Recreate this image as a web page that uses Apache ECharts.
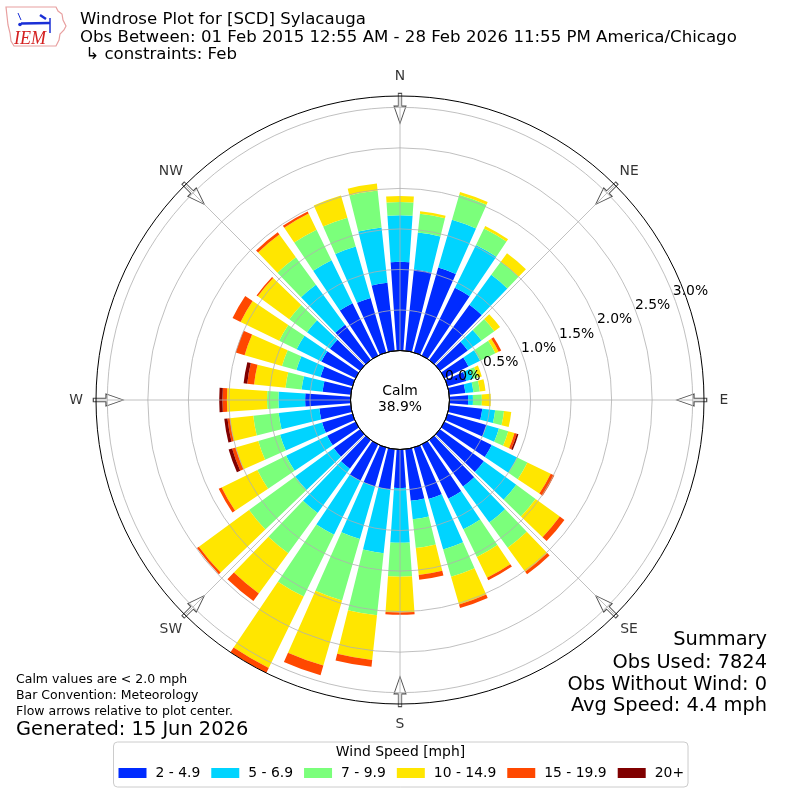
<!DOCTYPE html>
<html>
<head>
<meta charset="utf-8">
<script src="https://cdn.jsdelivr.net/npm/echarts@6/dist/echarts.min.js"></script>
<style>
html,body{margin:0;padding:0;background:#ffffff;}
#chart{width:800px;height:800px;}
</style>
</head>
<body>
<div id="chart"></div>
<script>
// ---------------- data ----------------
const directions = ['0','10','20','30','40','50','60','70','80','90','100','110',
  '120','130','140','150','160','170','180','190','200','210','220','230',
  '240','250','260','270','280','290','300','310','320','330','340','350'];
const speedBins = ['2 - 4.9','5 - 6.9','7 - 9.9','10 - 14.9','15 - 19.9','20+'];
const binColors = ['#002bff','#00d4ff','#7bff7b','#ffe600','#ff4800','#800000'];

// percent of observations per direction, per speed bin
const spd2to5 = [1.094,1.007,1.09,0.93,0.844,0.425,0.33,0.24,0.20,0.23,0.41,0.50,
  0.65,0.67,0.71,0.745,0.66,0.64,0.475,0.50,0.50,0.50,0.44,0.40,
  0.39,0.39,0.39,0.56,0.35,0.41,0.47,0.46,0.54,0.72,0.70,0.845];
const spd5to7 = [0.575,0.46,0.615,0.59,0.456,0.209,0.16,0.09,0.10,0.06,0.16,0.16,
  0.35,0.495,0.55,0.42,0.65,0.23,0.675,0.79,0.675,0.74,0.675,0.59,
  0.565,0.54,0.505,0.33,0.26,0.31,0.34,0.35,0.61,0.59,0.66,0.685];
const spd7to10 = [0.164,0.233,0.32,0.225,0.20,0.196,0.21,0.06,0.08,0.11,0.11,0.12,
  0.14,0.295,0.385,0.38,0.35,0.355,0.42,0.77,0.79,0.85,0.615,0.705,
  0.395,0.28,0.315,0.14,0.20,0.185,0.24,0.27,0.42,0.42,0.37,0.46];
const spd10to15 = [0.073,0.03,0.035,0.035,0.13,0.087,0.045,0.05,0.07,0.11,0.09,0.08,
  0.32,0.37,0.365,0.285,0.355,0.335,0.44,0.555,0.835,0.98,0.615,0.765,
  0.49,0.29,0.29,0.495,0.39,0.48,0.53,0.48,0.345,0.22,0.285,0.085];
const spd15to20 = [0,0,0,0,0,0,0.035,0,0,0,0,0.03,
  0.05,0.07,0.04,0.035,0.045,0.06,0.03,0.085,0.125,0.07,0.115,0.03,
  0.04,0.045,0.03,0.055,0.085,0.115,0.11,0.02,0.035,0.03,0,0];
const spd20plus = [0,0,0,0,0,0,0,0,0,0,0,0.02,
  0,0,0,0,0,0,0,0,0,0,0,0,
  0,0.045,0.04,0.04,0.045,0,0,0,0,0,0,0];
const seriesValues = [spd2to5, spd5to7, spd7to10, spd10to15, spd15to20, spd20plus];

const compassNames = ['N','NE','E','SE','S','SW','W','NW'];
const compassAngles = [0,45,90,135,180,225,270,315];
const radialTickStep = 0.5;   // percent
const radialMax = 3.14;       // percent (axis limit = largest bar)
const radialGridMax = 3.0;

const titleLines = ['Windrose Plot for [SCD] Sylacauga',
  'Obs Between: 01 Feb 2015 12:55 AM - 28 Feb 2026 11:55 PM America/Chicago',
  ' \u21b3 constraints: Feb'];
const summaryLines = ['Summary','Obs Used: 7824','Obs Without Wind: 0','Avg Speed: 4.4 mph'];
const noteLines = ['Calm values are < 2.0 mph','Bar Convention: Meteorology','Flow arrows relative to plot center.'];
const generatedText = 'Generated: 15 Jun 2026';
const calmLabel = 'Calm';
const calmValue = '38.9%';
const legendTitle = 'Wind Speed [mph]';

// ---------------- layout ----------------
const FONT = 'DejaVu Sans';
const R_IN = 49.5, R_OUT = 304;
const R_COMPASS = 324;
const pxPer = (R_OUT - R_IN) / radialMax;
const labelShift = 17.5;
const arrowR = 2.988;
const GRID = '#b0b0b0';

const chart = echarts.init(document.getElementById('chart'), null, {renderer:'canvas'});

const hiddenAxis = {axisLine:{show:false}, axisTick:{show:false}, axisLabel:{show:false}, splitLine:{show:false}};

const barSeries = speedBins.map((name, i) => ({
  name: name,
  type: 'bar',
  coordinateSystem: 'polar',
  polarIndex: 0,
  stack: 'wind',
  barCategoryGap: '22%',
  itemStyle: {color: binColors[i]},
  data: seriesValues[i].map(v => v > 0 ? v : '-'),
  silent: true,
  z: 2
}));

const arrowSeries = {
  type: 'scatter',
  coordinateSystem: 'polar',
  polarIndex: 2,
  symbol: 'path://M13.5,0L24.5,0L24.5,25.4L38,25.4L19,60L0,25.4L13.5,25.4Z',
  symbolSize: [19, 30],
  symbolKeepAspect: true,
  itemStyle: {color:'#ffffff', borderColor:'#222222', borderWidth:1},
  data: compassAngles.map(a => ({value:[arrowR, a], symbolRotate: -a})),
  silent: true,
  z: 8
};

const compassSeries = {
  type: 'scatter',
  coordinateSystem: 'polar',
  polarIndex: 5,
  symbol: 'circle',
  symbolSize: 1,
  itemStyle: {color: 'rgba(255,255,255,0)'},
  label: {show:true, position:'inside', color:'#000', fontSize:13.9, fontFamily:FONT,
          formatter: p => compassNames[p.dataIndex]},
  data: compassAngles.map(a => [1, a]),
  silent: true,
  z: 12
};

const graphics = [];
titleLines.forEach((t, i) => graphics.push({
  type:'text', z: 100,
  style:{text:t, x:80, y:20 + i*17.5, textAlign:'left', textVerticalAlign:'middle',
         font:'16.6px "' + FONT + '"', fill:'#000'}
}));
summaryLines.forEach((t, i) => graphics.push({
  type:'text', z:100,
  style:{text:t, x:767, y:[640,662.5,684.5,706][i], textAlign:'right', textVerticalAlign:'middle',
         font:'19.4px "' + FONT + '"', fill:'#000'}
}));
noteLines.forEach((t, i) => graphics.push({
  type:'text', z:100,
  style:{text:t, x:16, y:680 + i*16, textAlign:'left', textVerticalAlign:'middle',
         font:'12.5px "' + FONT + '"', fill:'#000'}
}));
graphics.push({type:'text', z:100,
  style:{text:generatedText, x:16, y:730, textAlign:'left', textVerticalAlign:'middle',
         font:'19.4px "' + FONT + '"', fill:'#000'}});
graphics.push({type:'text', z:100,
  style:{text:calmLabel, x:400, y:391.5, textAlign:'center', textVerticalAlign:'middle',
         font:'13.9px "' + FONT + '"', fill:'#000'}});
graphics.push({type:'text', z:100,
  style:{text:calmValue, x:400, y:407.5, textAlign:'center', textVerticalAlign:'middle',
         font:'13.9px "' + FONT + '"', fill:'#000'}});
graphics.push({type:'text', z:100,
  style:{text:legendTitle, x:400.5, y:752.5, textAlign:'center', textVerticalAlign:'middle',
         font:'13.9px "' + FONT + '"', fill:'#000'}});
// IEM logo (decorative)
graphics.push({type:'polygon', z:100,
  shape:{points:[[6,7],[56,7],[58,11],[62,14],[63,20],[66,26],[64,30],[60,34],[59,40],[56,46],[14,46],[11,41],[10,33],[8,25],[7,16]]},
  style:{fill:'none', stroke:'#e8a0a0', lineWidth:1.2}});
graphics.push({type:'polyline', z:100, shape:{points:[[21,23.5],[50,23]]}, style:{stroke:'#1a2fd6', lineWidth:2.5}});
graphics.push({type:'polyline', z:100, shape:{points:[[50,18],[50,33]]}, style:{stroke:'#1a2fd6', lineWidth:1.5}});
graphics.push({type:'polyline', z:100, shape:{points:[[40,15],[46,19]]}, style:{stroke:'#1a2fd6', lineWidth:2.5}});
graphics.push({type:'polyline', z:100, shape:{points:[[18,13],[21,20]]}, style:{stroke:'#1a2fd6', lineWidth:1}});
graphics.push({type:'circle', z:100, shape:{cx:20, cy:24.5, r:1.8}, style:{fill:'#1a2fd6'}});
graphics.push({type:'text', z:100,
  style:{text:'IEM', x:30, y:39, textAlign:'center', textVerticalAlign:'middle',
         font:'italic 18px "Liberation Serif"', fill:'#d42020'}});

const option = {
  animation: false,
  backgroundColor: '#ffffff',
  textStyle: {fontFamily: FONT},
  polar: [
    {center:['50%','50%'], radius:[R_IN, R_OUT]},
    {center:['50%','50%'], radius:[R_IN, R_IN + radialGridMax*pxPer]},
    {center:['50%','50%'], radius:[R_IN, R_OUT]},
    {center:['50%','50%'], radius:[R_IN + labelShift, R_IN + labelShift + radialMax*pxPer]},
    {center:['50%','50%'], radius:[0, R_IN]},
    {center:['50%','50%'], radius:[0, R_COMPASS]}
  ],
  angleAxis: [
    Object.assign({polarIndex:0, type:'category', data:directions, startAngle:95, clockwise:true}, hiddenAxis),
    Object.assign({polarIndex:1, type:'value', min:0, max:360}, hiddenAxis),
    {polarIndex:2, type:'value', min:0, max:360, interval:45, startAngle:90, clockwise:true, z:10,
     axisLine:{show:true, lineStyle:{color:'#000', width:1}},
     axisTick:{show:false},
     axisLabel:{show:false},
     splitLine:{show:true, lineStyle:{color:GRID, width:0.8}}},
    Object.assign({polarIndex:3, type:'value', min:0, max:360, startAngle:20.5}, hiddenAxis),
    {polarIndex:4, type:'value', min:0, max:360, z:10,
     axisLine:{show:true, lineStyle:{color:'#000', width:1}},
     axisTick:{show:false}, axisLabel:{show:false}, splitLine:{show:false}},
    Object.assign({polarIndex:5, type:'value', min:0, max:360, startAngle:90, clockwise:true}, hiddenAxis)
  ],
  radiusAxis: [
    Object.assign({polarIndex:0, type:'value', min:0, max:radialMax}, hiddenAxis),
    {polarIndex:1, type:'value', min:0, max:radialGridMax, interval:radialTickStep, z:10,
     axisLine:{show:false}, axisTick:{show:false}, axisLabel:{show:false},
     splitLine:{show:true, lineStyle:{color:GRID, width:0.8}}},
    Object.assign({polarIndex:2, type:'value', min:0, max:radialMax}, hiddenAxis),
    {polarIndex:3, type:'value', min:0, max:radialMax, interval:radialTickStep, z:10,
     axisLine:{show:false}, axisTick:{show:false}, splitLine:{show:false},
     axisLabel:{show:true, margin:0, showMinLabel:true, align:'center', verticalAlign:'middle',
       color:'#000', fontSize:13.9, fontFamily:FONT,
       formatter: v => Math.abs(v/radialTickStep - Math.round(v/radialTickStep)) < 1e-6 ? v.toFixed(1) + '%' : ''}},
    Object.assign({polarIndex:4, type:'value', min:0, max:1}, hiddenAxis),
    Object.assign({polarIndex:5, type:'value', min:0, max:1}, hiddenAxis)
  ],
  legend: {
    data: speedBins,
    selectedMode: false,
    left: 113.5, top: 742,
    orient: 'horizontal',
    icon: 'rect',
    itemWidth: 28, itemHeight: 10, itemGap: 11,
    padding: [24, 4, 7, 5],
    borderColor: '#cccccc', borderWidth: 1, borderRadius: 4,
    backgroundColor: '#ffffff',
    textStyle: {fontFamily: FONT, fontSize: 13.9, color: '#000', padding: [0,0,0,4]}
  },
  graphic: graphics,
  series: barSeries.concat([arrowSeries, compassSeries])
};
chart.setOption(option);
</script>
</body>
</html>
